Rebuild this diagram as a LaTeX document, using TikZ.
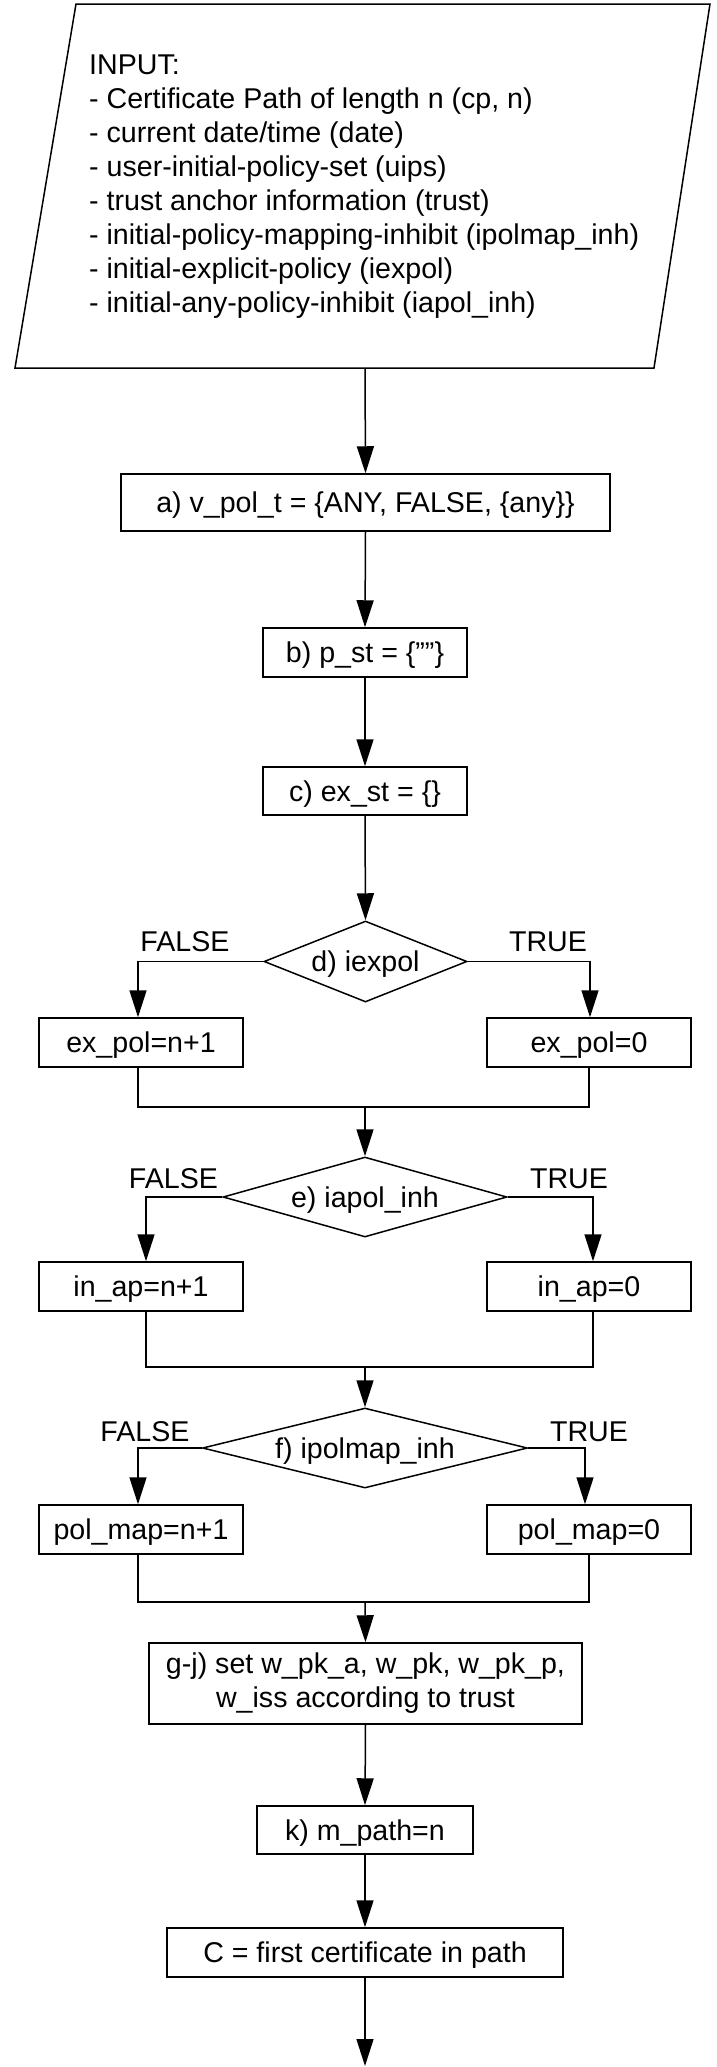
\documentclass[tikz,border=0pt]{standalone}
\usepackage{fontspec}
\setmainfont{Liberation Sans}
\usetikzlibrary{arrows.meta,shapes.geometric}
\newcommand\myfs{\fontsize{28.6pt}{34pt}\selectfont}
\tikzset{
  con/.style={line width=1.5pt},
  arr/.style={line width=1.5pt,-{Triangle[length=27pt,width=17pt]}},
  box/.style={draw,line width=1.5pt,rectangle,inner sep=0pt,font=\myfs,text height=20.5pt,text depth=0pt},
  mbox/.style={draw,line width=1.5pt,rectangle,inner sep=0pt,font=\myfs,align=center},
  dia/.style={draw,line width=1.5pt,diamond,inner sep=0pt,font=\myfs,text height=20.5pt,text depth=0pt},
  lbl/.style={inner sep=0pt,font=\myfs,text height=20.5pt,text depth=0pt},
}
\begin{document}
\begin{tikzpicture}[x=1pt,y=-1pt]
\useasboundingbox (0,0) rectangle (717,2067);
% input parallelogram
\draw[con] (76,4) -- (710,4) -- (654,368) -- (15,368) -- cycle;
\node[inner sep=0pt,font=\myfs,align=left,anchor=west] (input) at (89,186.75)
 {INPUT:\\- Certificate Path of length n (cp, n)\\- current date/time (date)\\- user-initial-policy-set (uips)\\- trust anchor information (trust)\\- initial-policy-mapping-inhibit (ipolmap\_inh)\\- initial-explicit-policy (iexpol)\\- initial-any-policy-inhibit (iapol\_inh)};
\coordinate (inbot) at (365,368);

\node[box,minimum width=489pt,minimum height=57pt] (a) at (365.5,502.5) {a) v\_pol\_t = \{ANY, FALSE, \{any\}\}};
\node[box,minimum width=204pt,minimum height=49pt] (b) at (365,652.5) {b) p\_st = \{""\}};
\node[box,minimum width=204pt,minimum height=48pt] (c) at (365,791) {c) ex\_st = \{\}};
\node[dia,minimum width=203pt,minimum height=81pt,aspect=2.5] (d) at (365.5,961.5) {d) iexpol};
\node[lbl] (dF) at (185,941.7) {FALSE};
\node[lbl] (dT) at (548,941.7) {TRUE};
\node[box,minimum width=204pt,minimum height=49pt] (exl) at (141,1042.5) {ex\_pol=n+1};
\node[box,minimum width=204pt,minimum height=49pt] (exr) at (589,1042.5) {ex\_pol=0};
\coordinate (m1) at (365,1107);

\node[dia,minimum width=284pt,minimum height=80pt,aspect=3.55] (e) at (365,1197) {e) iapol\_inh};
\node[lbl] (eF) at (173.5,1178.5) {FALSE};
\node[lbl] (eT) at (569,1178.5) {TRUE};
\node[box,minimum width=204pt,minimum height=49pt] (inl) at (141,1286.5) {in\_ap=n+1};
\node[box,minimum width=204pt,minimum height=49pt] (inr) at (589,1286.5) {in\_ap=0};
\coordinate (m2) at (365,1367);

\node[dia,minimum width=325pt,minimum height=80pt,aspect=4.06] (f) at (365,1448) {f) ipolmap\_inh};
\node[lbl] (fF) at (145,1431) {FALSE};
\node[lbl] (fT) at (589,1431) {TRUE};
\node[box,minimum width=204pt,minimum height=49pt] (pml) at (141,1529.5) {pol\_map=n+1};
\node[box,minimum width=204pt,minimum height=49pt] (pmr) at (589,1529.5) {pol\_map=0};
\coordinate (m3) at (365,1602);

\node[mbox,minimum width=433pt,minimum height=81pt] (g) at (365.5,1683.5) {g-j) set w\_pk\_a, w\_pk, w\_pk\_p,\\w\_iss according to trust};
\node[box,minimum width=216pt,minimum height=48pt] (k) at (365,1830) {k) m\_path=n};
\node[box,minimum width=396pt,minimum height=49pt] (C) at (365,1952.5) {C = first certificate in path};
\coordinate (end) at (365,2066);

% connectors
\draw[arr] (inbot) -- (a.north);
\draw[arr] (a.south) -- (b.north);
\draw[arr] (b.south) -- (c.north);
\draw[arr] (c.south) -- (d.north);
\draw[arr] (d.west) -| ([xshift=-3pt]exl.north);
\draw[arr] (d.east) -| ([xshift=1pt]exr.north);
\draw[con] ([xshift=-3pt]exl.south) |- (m1) -| (exr.south);
\draw[arr] (m1) -- (e.north);
\draw[arr] (e.west) -| ([xshift=5pt]inl.north);
\draw[arr] (e.east) -| ([xshift=4pt]inr.north);
\draw[con] ([xshift=5pt]inl.south) |- (m2) -| ([xshift=4pt]inr.south);
\draw[arr] (m2) -- (f.north);
\draw[arr] (f.west) -| ([xshift=-3pt]pml.north);
\draw[arr] (f.east) -| ([xshift=-4pt]pmr.north);
\draw[con] ([xshift=-3pt]pml.south) |- (m3) -| (pmr.south);
\draw[arr] (m3) -- (g.north);
\draw[arr] (g.south) -- (k.north);
\draw[arr] (k.south) -- (C.north);
\draw[arr] (C.south) -- (end);
\end{tikzpicture}
\end{document}
